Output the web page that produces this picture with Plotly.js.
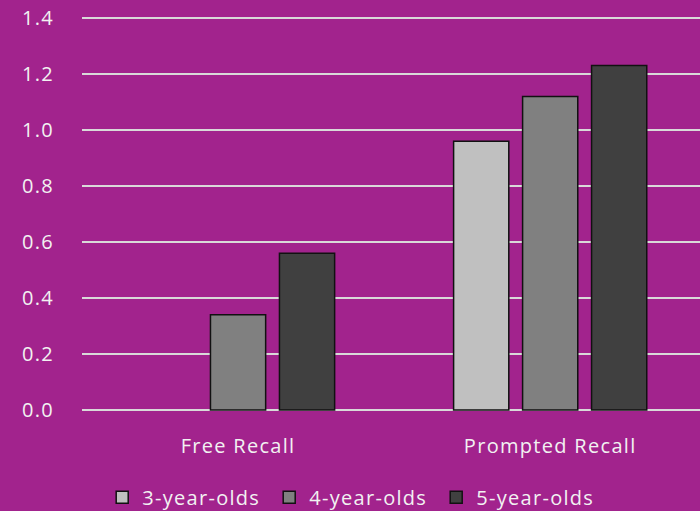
<!DOCTYPE html>
<html>
<head>
<meta charset="utf-8">
<script src="https://cdn.plot.ly/plotly-3.0.1.min.js"></script>
<style>
html,body{margin:0;padding:0;background:#A2238D;}
.xtick text, .ytick text, .legendtext { letter-spacing: 1.3px; }
.legendpoints path { stroke: #111111 !important; stroke-width: 1.5px !important; stroke-opacity: 1 !important; }
</style>
</head>
<body>
<div id="chart" style="width:700px;height:511px;"></div>
<script>
const categories = ["Free Recall", "Prompted Recall"];
const seriesNames = ["3-year-olds", "4-year-olds", "5-year-olds"];
const values3 = [0, 0.96];
const values4 = [0.34, 1.12];
const values5 = [0.56, 1.23];
const tickVals = [0, 0.2, 0.4, 0.6, 0.8, 1.0, 1.2, 1.4];
const tickText = ["0.0", "0.2", "0.4", "0.6", "0.8", "1.0", "1.2", "1.4"];

const colors = ["#C0C0C0", "#808080", "#404040"];
const allValues = [values3, values4, values5];

const traces = allValues.map((v, i) => ({
  type: "bar",
  name: seriesNames[i],
  x: categories,
  y: v,
  marker: {
    color: colors[i],
    line: {color: "#111111", width: v.map(val => (val > 0 ? 1.5 : 0))}
  },
  hoverinfo: "none"
}));

const layout = {
  width: 700,
  height: 511,
  paper_bgcolor: "#A2238D",
  plot_bgcolor: "#A2238D",
  margin: {l: 82, r: 0, t: 15, b: 99},
  barmode: "group",
  bargap: 0.337,
  bargroupgap: 0.2,
  font: {family: "Open Sans, sans-serif", color: "#F2F2F2", size: 20},
  xaxis: {
    range: [-0.5, 1.48],
    showgrid: false,
    zeroline: false,
    showline: false,
    ticks: "",
    ticklabelstandoff: 20,
    tickfont: {size: 20, color: "#F2F2F2"}
  },
  yaxis: {
    range: [-0.00714, 1.4107],
    tickvals: tickVals,
    ticktext: tickText,
    showgrid: true,
    gridcolor: "#D9D9D9",
    gridwidth: 1.3,
    zeroline: false,
    showline: false,
    ticks: "",
    ticklabelstandoff: 27,
    tickfont: {size: 20, color: "#F2F2F2"}
  },
  showlegend: true,
  legend: {
    orientation: "h",
    xref: "container",
    yref: "container",
    x: 0.146,
    xanchor: "left",
    y: 0.027,
    yanchor: "middle",
    font: {size: 20, color: "#F2F2F2"},
    itemwidth: 30,
    entrywidth: 122,
    traceorder: "normal"
  }
};

Plotly.newPlot("chart", traces, layout, {staticPlot: true, displayModeBar: false});
</script>
</body>
</html>
